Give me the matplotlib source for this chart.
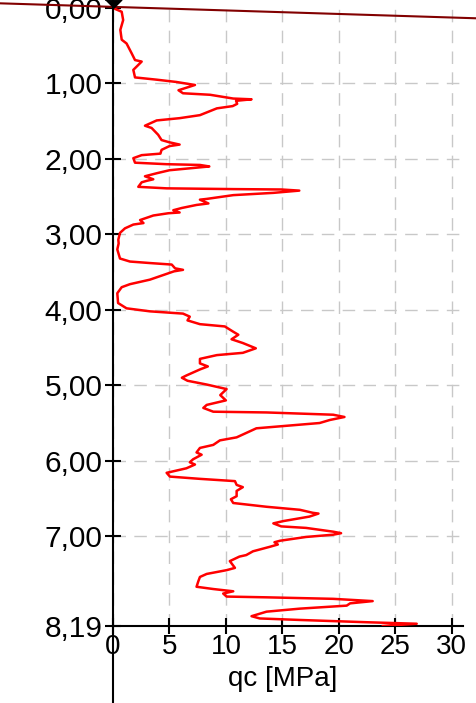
import matplotlib
matplotlib.use("Agg")
import matplotlib.pyplot as plt

plt.rcParams['font.family'] = ['Liberation Sans', 'DejaVu Sans']

# CPT profile: depth [m] and cone resistance qc [MPa]
depth = [0.00, 0.05, 0.16, 0.29, 0.42, 0.47, 0.60, 0.69, 0.71, 0.82, 0.92, 0.95, 0.98,
         1.02, 1.09, 1.13, 1.15, 1.20, 1.21, 1.23, 1.27, 1.30, 1.33, 1.42, 1.46, 1.49,
         1.56, 1.59, 1.68, 1.75, 1.78, 1.81, 1.83, 1.88, 1.93, 1.95, 1.99, 2.05, 2.07,
         2.08, 2.10, 2.12, 2.15, 2.19, 2.23, 2.27, 2.29, 2.31, 2.37, 2.39, 2.40, 2.405,
         2.42, 2.45, 2.48, 2.53, 2.54, 2.59, 2.61, 2.65, 2.68, 2.71, 2.72, 2.75, 2.81,
         2.85, 2.87, 2.92, 2.98, 3.07, 3.12, 3.20, 3.32, 3.36, 3.38, 3.40, 3.45, 3.47,
         3.49, 3.60, 3.66, 3.70, 3.78, 3.91, 3.98, 4.02, 4.05, 4.09, 4.14, 4.19, 4.22,
         4.29, 4.33, 4.39, 4.44, 4.51, 4.57, 4.60, 4.65, 4.71, 4.75, 4.79, 4.87, 4.90,
         4.94, 4.99, 5.05, 5.13, 5.20, 5.26, 5.30, 5.35, 5.36, 5.39, 5.42, 5.46, 5.50,
         5.54, 5.57, 5.63, 5.69, 5.73, 5.79, 5.83, 5.89, 5.92, 5.98, 6.02, 6.05, 6.10,
         6.16, 6.21, 6.24, 6.27, 6.32, 6.35, 6.40, 6.47, 6.51, 6.56, 6.61, 6.65, 6.69,
         6.70, 6.74, 6.80, 6.83, 6.87, 6.89, 6.94, 6.96, 6.98, 7.01, 7.06, 7.08, 7.11,
         7.14, 7.20, 7.25, 7.27, 7.33, 7.42, 7.45, 7.50, 7.54, 7.60, 7.67, 7.70, 7.72,
         7.73, 7.76, 7.80, 7.81, 7.83, 7.86, 7.89, 7.92, 7.96, 8.00, 8.06, 8.09, 8.11,
         8.14, 8.16, 8.19]
qc = [0.0, 0.77, 0.9, 0.65, 0.77, 1.2, 1.65, 1.95, 2.54, 1.8, 1.95, 3.87, 5.6,
      7.26, 5.8, 6.2, 8.6, 10.65, 12.27, 10.9, 11.0, 10.6, 9.2, 7.7, 5.9, 3.87,
      2.83, 3.42, 4.0, 4.3, 5.0, 5.9, 5.0, 4.3, 4.2, 2.54, 1.8, 1.95, 4.75,
      7.7, 8.53, 7.1, 5.0, 3.87, 2.83, 3.57, 3.0, 2.54, 2.24, 4.75, 10.65, 14.9,
      16.5, 14.2, 10.65, 8.3, 7.7, 8.45, 7.4, 6.1, 5.34, 5.9, 4.9, 3.57, 2.4,
      2.7, 1.8, 1.06, 0.62, 0.47, 0.5, 0.38, 0.62, 1.5, 3.27, 5.2, 5.5, 6.2,
      5.4, 3.27, 1.5, 0.77, 0.38, 0.45, 1.2, 3.27, 6.2, 6.8, 6.6, 7.7, 9.9,
      10.65, 11.1, 10.5, 11.5, 12.65, 11.5, 9.2, 7.7, 7.7, 8.4, 7.7, 6.5, 6.1,
      6.6, 8.3, 10.06, 9.5, 10.0, 8.3, 8.0, 8.88, 13.6, 19.5, 20.5, 19.2, 18.3,
      15.07, 12.7, 11.83, 10.95, 9.47, 8.88, 7.7, 7.4, 7.85, 7.1, 6.8, 7.26, 6.5,
      4.75, 5.04, 7.7, 10.8, 10.95, 11.5, 10.95, 10.95, 10.44, 10.65, 13.6, 16.55, 17.7,
      18.2, 17.4, 15.07, 14.2, 14.9, 17.1, 19.5, 20.2, 19.5, 17.1, 14.8, 14.3, 14.6,
      13.9, 12.4, 11.8, 11.2, 10.35, 10.8, 10.06, 8.3, 7.7, 7.55, 7.4, 8.88, 10.06,
      10.65, 9.76, 10.06, 13.6, 19.5, 23.0, 21.0, 20.7, 16.55, 13.6, 12.27, 13.0, 16.55,
      22.45, 26.9, 23.9]

# reference (dark red) line
ref_qc = [-10.0, 32.1]
ref_depth = [-0.062, 0.136]

y_ticks = [0, 1, 2, 3, 4, 5, 6, 7, 8.19]
y_labels = ["0,00", "1,00", "2,00", "3,00", "4,00", "5,00", "6,00", "7,00", "8,19"]
x_ticks = [0, 5, 10, 15, 20, 25, 30]
x_labels = ["0", "5", "10", "15", "20", "25", "30"]
x_max = 31
depth_max = 8.19

fig = plt.figure(figsize=(4.76, 7.03), dpi=100)
ax = fig.add_axes([113 / 476, 77 / 703, 350 / 476, 618 / 703])

ax.plot(qc, depth, color='#ff0000', lw=1.8, zorder=3, solid_joinstyle='round')
ax.plot(ref_qc, ref_depth, color='#820000', lw=1.5, zorder=4, clip_on=False)

ax.set_xlim(0, x_max)
ax.set_ylim(depth_max, 0)

for s in ['top', 'right', 'left']:
    ax.spines[s].set_visible(False)
ax.spines['bottom'].set_linewidth(1.5)
ax.spines['bottom'].set_color('black')

ax.axvline(0, ymin=-0.2, ymax=1.05, color='black', lw=1.5, clip_on=False, zorder=5)
ax.plot([0], [0], marker=[(-1, 1), (1, 1), (0, 0)], markersize=12, color='black',
        clip_on=False, zorder=6, linestyle='none')

ax.set_yticks(y_ticks)
ax.set_yticklabels(y_labels)
ax.set_xticks(x_ticks)
ax.set_xticklabels(x_labels)
ax.tick_params(axis='both', direction='inout', length=11, width=1.5, labelsize=20,
               colors='black')
ax.tick_params(axis='y', pad=2, labelsize=21.5)
ax.tick_params(axis='x', pad=0)

ax.grid(True, color='#c8c8c8', linestyle=(0, (9, 6)), linewidth=1.0, zorder=0)
ax.set_axisbelow(True)
ax.get_ygridlines()[0].set_visible(False)

ax.set_xlabel('qc [MPa]', fontsize=20, labelpad=-2)
ax.xaxis.set_label_coords(15 / x_max, -0.065)

fig.savefig('out.png', dpi=100)
